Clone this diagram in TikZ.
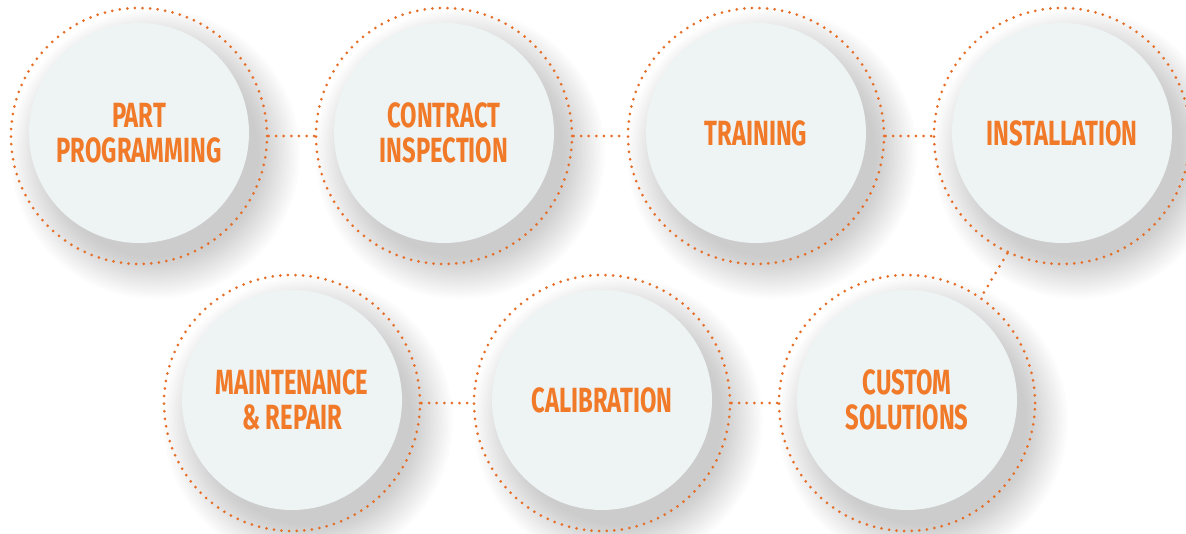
\documentclass[tikz,border=0pt]{standalone}
\usepackage{fontspec}
\newfontfamily\headfont[FakeStretch=0.68]{Fira Sans}

\definecolor{ringorange}{RGB}{229,110,40}
\definecolor{textorange}{RGB}{241,122,41}
\definecolor{discgray}{RGB}{238,243,244}

\begin{document}
\begin{tikzpicture}[x=1pt,y=-1pt,
        dots/.style={draw=ringorange, line width=3pt, line cap=round,
                     dash pattern=on 0pt off 7.6pt},
        ring/.style={dots, circle, minimum size=256pt, inner sep=0pt},
        disc/.style={circle, fill=discgray, minimum size=220pt, inner sep=0pt,
                     text=textorange, align=center,
                     font=\headfont\bfseries\fontsize{35}{35}\selectfont}]
      \useasboundingbox (0,0) rectangle (1186,533);
      % soft shadows
      \foreach \cx/\cy in {139/136, 444/136, 756/136, 1062/136,
                           292/403, 602/403, 907/403}
        \foreach \i in {0,...,17}
          \fill[black, opacity=0.012] (\cx+16,\cy+18) circle[radius={104pt+2.4pt*\i}];
      % rings
      \node[ring] (part)     at (139,136) {};
      \node[ring] (contract) at (444,136) {};
      \node[ring] (training) at (756,136) {};
      \node[ring] (install)  at (1062,136) {};
      \node[ring] (maint)    at (292,403) {};
      \node[ring] (calib)    at (602,403) {};
      \node[ring] (custom)   at (907,403) {};
      % discs
      \node[disc] (part disc)     at ([yshift=3pt]part)     {PART\\PROGRAMMING};
      \node[disc] (contract disc) at ([yshift=3pt]contract) {CONTRACT\\INSPECTION};
      \node[disc] (training disc) at ([yshift=3pt]training) {TRAINING};
      \node[disc] (install disc)  at ([yshift=3pt]install)  {INSTALLATION};
      \node[disc] (maint disc)    at ([yshift=3pt]maint)    {MAINTENANCE\\\& REPAIR};
      \node[disc] (calib disc)    at ([yshift=3pt]calib)    {CALIBRATION};
      \node[disc] (custom disc)   at ([yshift=3pt]custom)   {CUSTOM\\SOLUTIONS};
      % links
      \draw[dots] (part.east)     -- (contract.west);
      \draw[dots] (contract.east) -- (training.west);
      \draw[dots] (training.east) -- (install.west);
      \draw[dots] (install.245)   -- (custom.55);
      \draw[dots] (maint.east)    -- (calib.west);
      \draw[dots] (calib.east)    -- (custom.west);
\end{tikzpicture}
\end{document}
